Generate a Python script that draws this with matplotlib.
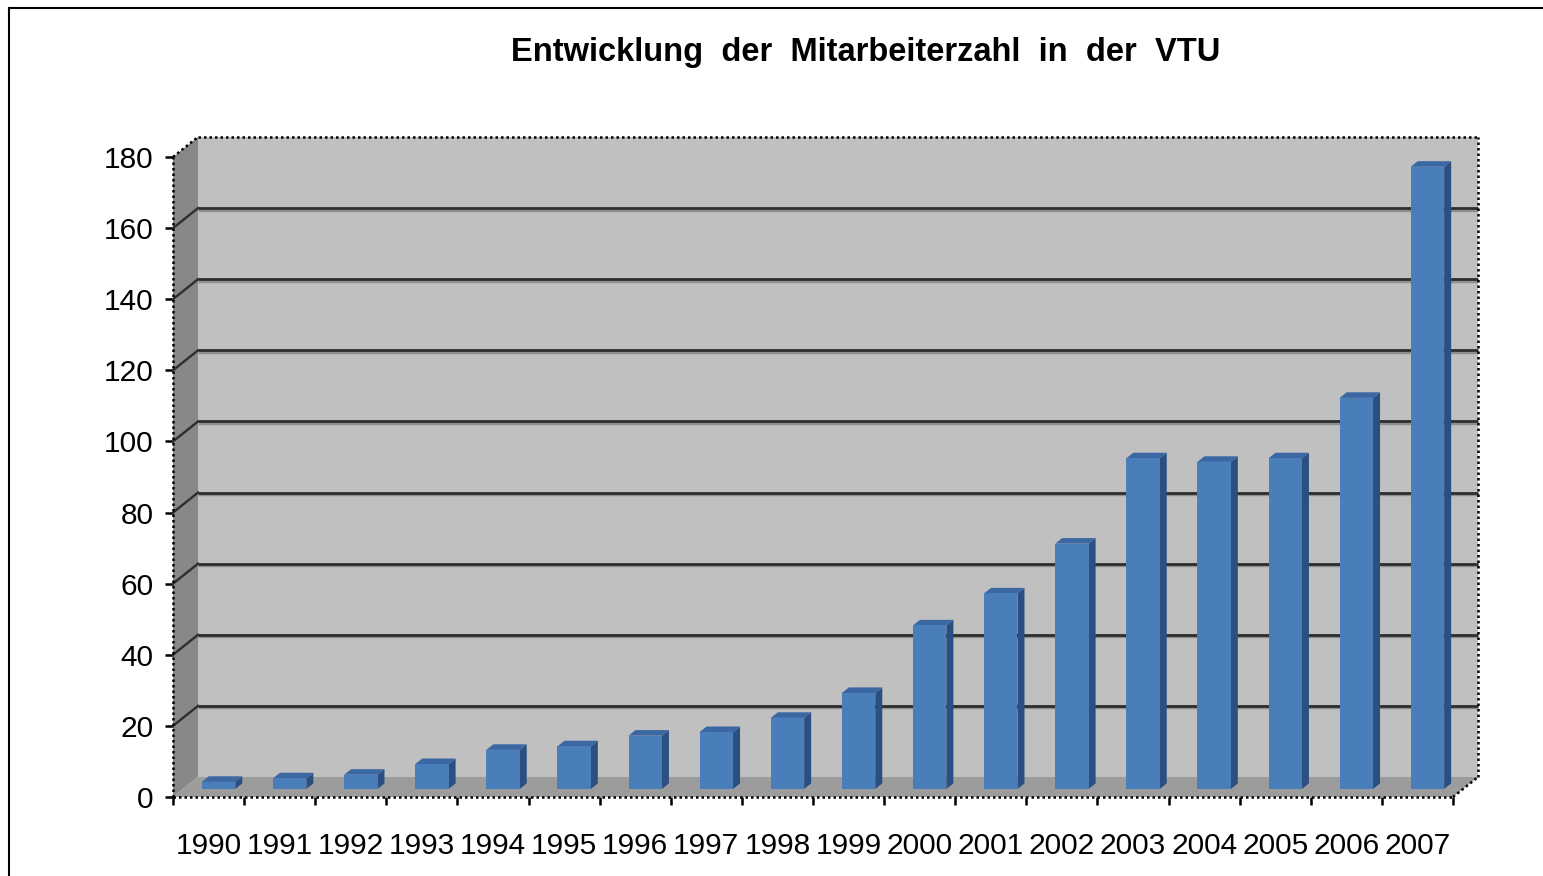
import matplotlib.pyplot as plt
from matplotlib.patches import Polygon
from matplotlib.lines import Line2D

plt.rcParams["font.family"] = ["Liberation Sans", "DejaVu Sans"]

# Daten
jahre = ["1990", "1991", "1992", "1993", "1994", "1995", "1996", "1997", "1998",
         "1999", "2000", "2001", "2002", "2003", "2004", "2005", "2006", "2007"]
mitarbeiter = [2, 3, 4, 7, 11, 12, 15, 16, 20, 27, 46, 55, 69, 93, 92, 93, 110, 175]
y_ticks = [0, 20, 40, 60, 80, 100, 120, 140, 160, 180]
titel = "Entwicklung  der  Mitarbeiterzahl  in  der  VTU"

W, H = 1543, 876
fig = plt.figure(figsize=(W / 100, H / 100), dpi=100)
fig.patch.set_facecolor("white")

# Plotbereich (vordere Ebene)
ax = fig.add_axes([173 / W, (H - 797) / H, 1280 / W, 640 / H])
n = len(jahre)
x0, x1 = -0.5, n - 0.5
ymax = 180
ax.set_xlim(x0, x1)
ax.set_ylim(0, ymax)
ax.set_facecolor("none")

# 3D-Versatz (Tiefe) in Dateneinheiten
dx = 25 / 71.1
dy = 20 / 3.555

wall_col = "#c0c0c0"
side_col = "#888888"
floor_col = "#9c9c9c"

# Rückwand
ax.add_patch(Polygon([(x0 + dx, dy), (x1 + dx, dy), (x1 + dx, ymax + dy), (x0 + dx, ymax + dy)],
                     closed=True, facecolor=wall_col, edgecolor="none", clip_on=False, zorder=1))
# linke Seitenwand
ax.add_patch(Polygon([(x0, 0), (x0 + dx, dy), (x0 + dx, ymax + dy), (x0, ymax)],
                     closed=True, facecolor=side_col, edgecolor="none", clip_on=False, zorder=1))
# Boden
ax.add_patch(Polygon([(x0, 0), (x1, 0), (x1 + dx, dy), (x0 + dx, dy)],
                     closed=True, facecolor=floor_col, edgecolor="none", clip_on=False, zorder=1.5))

# Gitterlinien auf Rück- und Seitenwand
px = ymax / 640
for v in y_ticks[1:-1]:
    ax.plot([x0 + dx, x1 + dx], [v + dy - 1.5 * px, v + dy - 1.5 * px], color="#8e8e8e",
            lw=2.4, clip_on=False, zorder=2, solid_capstyle="butt")
    ax.plot([x0 + dx, x1 + dx], [v + dy, v + dy], color="#2e2e2e", lw=2.0,
            clip_on=False, zorder=2.1, solid_capstyle="butt")
    ax.plot([x0, x0 + dx], [v, v + dy], color="#2e2e2e", lw=1.7, clip_on=False, zorder=2.1)

# gepunktete Kanten
dot = dict(color="black", lw=1.8, linestyle=(0, (1, 1.2)), clip_on=False, zorder=5)
ax.plot([x0 + dx, x1 + dx], [ymax + dy, ymax + dy], **dot)
ax.plot([x1 + dx, x1 + dx], [dy, ymax + dy], **dot)
ax.plot([x1, x1 + dx], [0, dy], **dot)
ax.plot([x0, x0 + dx], [ymax, ymax + dy], **dot)
ax.plot([x0, x0], [0, ymax], **dot)
ax.plot([x0, x1], [0, 0], **dot)

# Säulen
f0, f1 = 0.4, 0.68
bw = 0.47
front_col = "#4a7ebb"
right_col = "#2b4f80"
top_col = "#3b68a3"
for i, v in enumerate(mitarbeiter):
    bx = i - bw / 2 + f0 * dx
    by = f0 * dy
    ddx = (f1 - f0) * dx
    ddy = (f1 - f0) * dy
    ax.add_patch(Polygon([(bx + bw, by), (bx + bw + ddx, by + ddy), (bx + bw + ddx, by + v + ddy),
                          (bx + bw, by + v)], closed=True, facecolor=right_col,
                         edgecolor="none", clip_on=False, zorder=3))
    ax.add_patch(Polygon([(bx, by + v), (bx + bw, by + v), (bx + bw + ddx, by + v + ddy),
                          (bx + ddx, by + v + ddy)], closed=True, facecolor=top_col,
                         edgecolor="none", clip_on=False, zorder=3))
    ax.add_patch(Polygon([(bx, by), (bx + bw, by), (bx + bw, by + v), (bx, by + v)],
                         closed=True, facecolor=front_col, edgecolor="none",
                         clip_on=False, zorder=3.2))

# Achsen und Beschriftung
for s in ax.spines.values():
    s.set_visible(False)
ax.set_yticks(y_ticks)
ax.set_yticklabels([str(t) for t in y_ticks])
ax.tick_params(axis="y", direction="out", length=6, width=1.8, pad=8,
               labelsize=21.5, color="black")
ax.set_xticks(range(n))
ax.set_xticklabels(jahre)
ax.tick_params(axis="x", which="major", length=0, pad=25, labelsize=21.5)
ax.set_xticks([k - 0.5 for k in range(n + 1)], minor=True)
ax.tick_params(axis="x", which="minor", direction="out", length=6, width=1.8)

fig.text(866 / W, 1 - 53 / H, titel, ha="center", va="center",
         fontsize=23.5, fontweight="bold")

# Rahmen (links und oben sichtbar)
fig.add_artist(Line2D([9 / W, 9 / W], [0, 1 - 8 / H], color="black", lw=1.5,
                      transform=fig.transFigure))
fig.add_artist(Line2D([9 / W, 1], [1 - 8 / H, 1 - 8 / H], color="black", lw=1.5,
                      transform=fig.transFigure))

fig.savefig("out.png", dpi=100)
